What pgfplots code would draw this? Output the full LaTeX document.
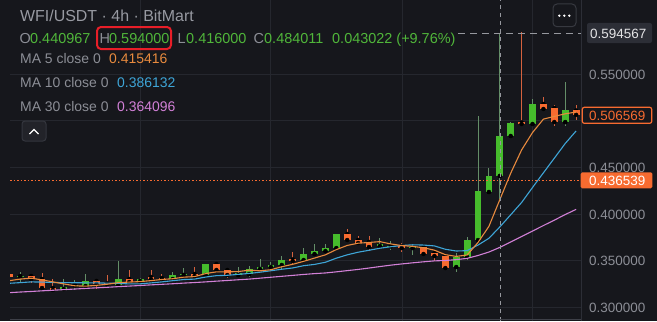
\documentclass[border=0pt]{standalone}
\usepackage{fontspec}
\setmainfont{Liberation Sans}
\usepackage{pgfplots}
\usepackage{pgfplotstable}
\pgfplotsset{compat=1.18}

\definecolor{bg}{RGB}{22,23,28}
\definecolor{gridc}{RGB}{37,39,46}
\definecolor{upc}{RGB}{70,188,44}
\definecolor{downc}{RGB}{247,107,48}
\definecolor{upwick}{RGB}{100,142,104}
\definecolor{downwick}{RGB}{214,98,62}
\definecolor{txtgray}{RGB}{140,142,150}
\definecolor{titlegray}{RGB}{152,154,162}
\definecolor{valgreen}{RGB}{80,182,58}
\definecolor{ma5c}{RGB}{232,138,62}
\definecolor{ma10c}{RGB}{62,165,215}
\definecolor{ma30c}{RGB}{210,128,215}
\definecolor{crossc}{RGB}{150,152,158}
\definecolor{boxgray}{RGB}{44,46,54}
\definecolor{redbox}{RGB}{232,30,40}
\definecolor{sepc}{RGB}{44,46,54}
\definecolor{bottomc}{RGB}{62,64,72}
\definecolor{btnborder}{RGB}{52,54,62}
\definecolor{btnfill}{RGB}{34,35,41}
\definecolor{menuborder}{RGB}{55,57,64}
\definecolor{labwhite}{RGB}{228,228,230}

% green (up) candles: x open high low close
\pgfplotstableread{
x o h l c
20.2 0.3331 0.3376 0.3269 0.3338
63.8 0.3194 0.3301 0.3188 0.3215
74.7 0.3233 0.3290 0.3183 0.3239
85.6 0.3226 0.3355 0.3194 0.3280
118.3 0.3237 0.3495 0.3231 0.3301
140.1 0.3280 0.3317 0.3269 0.3306
172.8 0.3301 0.3376 0.3290 0.3344
183.7 0.3344 0.3419 0.3323 0.3355
205.5 0.3344 0.3462 0.3333 0.3462
238.2 0.3344 0.3430 0.3333 0.3366
249.1 0.3355 0.3441 0.3323 0.3409
260.0 0.3409 0.3516 0.3398 0.3430
270.9 0.3430 0.3484 0.3419 0.3457
281.8 0.3452 0.3548 0.3409 0.3505
303.6 0.3505 0.3634 0.3484 0.3570
314.5 0.3570 0.3677 0.3559 0.3602
325.4 0.3602 0.3677 0.3591 0.3634
336.3 0.3634 0.3785 0.3624 0.3785
379.9 0.3656 0.3742 0.3634 0.3677
390.8 0.3653 0.3710 0.3613 0.3659
412.6 0.3634 0.3667 0.3559 0.3645
456.2 0.3430 0.3581 0.3376 0.3538
467.1 0.3538 0.3753 0.3505 0.3720
478.0 0.3720 0.5054 0.3710 0.4247
488.9 0.4237 0.4495 0.4237 0.4409
499.8 0.440967 0.594000 0.416000 0.484011
510.7 0.4839 0.4985 0.4830 0.4979
532.5 0.4968 0.5237 0.4968 0.5183
565.2 0.4989 0.5419 0.4946 0.5118
}\greentab

% orange (down) candles: x open high low close
\pgfplotstableread{
x o h l c
9.3 0.3355 0.3366 0.3312 0.3323
31.1 0.3333 0.3340 0.3258 0.3301
42.0 0.3301 0.3366 0.3199 0.3204
52.9 0.3204 0.3301 0.3177 0.3183
96.5 0.3280 0.3301 0.3194 0.3247
107.4 0.3253 0.3344 0.3226 0.3244
129.2 0.3301 0.3398 0.3258 0.3269
151.0 0.3323 0.3398 0.3290 0.3301
161.9 0.3312 0.3355 0.3280 0.3301
194.6 0.3355 0.3430 0.3323 0.3333
216.4 0.3462 0.3473 0.3376 0.3398
227.3 0.3398 0.3398 0.3312 0.3344
292.7 0.3511 0.3591 0.3452 0.3495
347.2 0.3785 0.3839 0.3710 0.3720
358.1 0.3720 0.3763 0.3677 0.3688
369.0 0.3699 0.3763 0.3602 0.3645
401.7 0.3656 0.3688 0.3591 0.3634
423.5 0.3645 0.3645 0.3559 0.3570
434.4 0.3581 0.3613 0.3495 0.3548
445.3 0.3548 0.3559 0.3398 0.3419
521.6 0.4984 0.5952 0.4962 0.4968
543.4 0.5183 0.5258 0.5108 0.5129
554.3 0.5140 0.5172 0.4946 0.4989
576.1 0.5113 0.5172 0.5011 0.506569
}\downtab

% moving averages
\pgfplotstableread{
x ma5 ma10 ma30
9.3 0.3283 0.3255 0.3154
20.2 0.3300 0.3262 0.3161
31.1 0.3310 0.3270 0.3167
42.0 0.3292 0.3268 0.3174
52.9 0.3270 0.3264 0.3180
63.8 0.3248 0.3262 0.3187
74.7 0.3228 0.3261 0.3193
85.6 0.3224 0.3260 0.3200
96.5 0.3233 0.3259 0.3206
107.4 0.3245 0.3257 0.3212
118.3 0.3262 0.3255 0.3219
129.2 0.3268 0.3248 0.3225
140.1 0.3273 0.3249 0.3231
151.0 0.3284 0.3259 0.3238
161.9 0.3296 0.3270 0.3244
172.8 0.3304 0.3283 0.3250
183.7 0.3321 0.3295 0.3257
194.6 0.3327 0.3300 0.3263
205.5 0.3359 0.3322 0.3270
216.4 0.3378 0.3337 0.3278
227.3 0.3378 0.3341 0.3285
238.2 0.3381 0.3351 0.3293
249.1 0.3396 0.3361 0.3300
260.0 0.3389 0.3374 0.3310
270.9 0.3401 0.3390 0.3320
281.8 0.3433 0.3406 0.3330
292.7 0.3459 0.3420 0.3340
303.6 0.3491 0.3444 0.3350
314.5 0.3526 0.3458 0.3359
325.4 0.3561 0.3481 0.3366
336.3 0.3617 0.3525 0.3378
347.2 0.3662 0.3561 0.3391
358.1 0.3686 0.3589 0.3404
369.0 0.3694 0.3610 0.3419
379.9 0.3703 0.3632 0.3435
390.8 0.3678 0.3648 0.3450
401.7 0.3661 0.3661 0.3463
412.6 0.3652 0.3669 0.3475
423.5 0.3637 0.3666 0.3486
434.4 0.3611 0.3657 0.3496
445.3 0.3563 0.3621 0.3500
456.2 0.3544 0.3602 0.3509
467.1 0.3559 0.3606 0.3523
478.0 0.3694 0.3666 0.3554
488.9 0.3867 0.3739 0.3591
499.8 0.4154 0.3861 0.3641
510.7 0.4439 0.3992 0.3700
521.6 0.4689 0.4124 0.3758
532.5 0.4876 0.4285 0.3817
543.4 0.5020 0.4443 0.3876
554.3 0.5050 0.4600 0.3934
565.2 0.5077 0.4758 0.3994
576.1 0.5097 0.4893 0.4050
}\matab

\begin{document}
\begin{tikzpicture}[x=1bp,y=1bp]
\fill[bg] (0,0) rectangle (657,321);
\begin{axis}[
  at={(10,0)}, anchor=south west,
  scale only axis, width=571bp, height=321bp,
  xmin=10, xmax=581, ymin=0.284946, ymax=0.630108,
  axis line style={draw=none},
  xtick=\empty, ytick=\empty,
  clip mode=individual,
]
% grid
\foreach \gx in {140,270,402,532} {
  \edef\tmp{\noexpand\draw[gridc, line width=1bp] (axis cs:\gx,0.284946) -- (axis cs:\gx,0.630108);}\tmp
}
\foreach \gy in {0.30,0.35,0.40,0.45,0.50,0.55} {
  \edef\tmp{\noexpand\draw[gridc, line width=1bp] (axis cs:10,\gy) -- (axis cs:581,\gy);}\tmp
}
% wicks
\addplot[only marks, mark=none, forget plot,
  error bars/.cd, y dir=both, y explicit, error mark=none,
  error bar style={upwick, line width=1bp}]
  table[x=x, y=o, y error plus expr=\thisrow{h}-\thisrow{o}, y error minus expr=\thisrow{o}-\thisrow{l}] {\greentab};
\addplot[only marks, mark=none, forget plot,
  error bars/.cd, y dir=both, y explicit, error mark=none,
  error bar style={downwick, line width=1bp}]
  table[x=x, y=o, y error plus expr=\thisrow{h}-\thisrow{o}, y error minus expr=\thisrow{o}-\thisrow{l}] {\downtab};
% bodies
\addplot[only marks, mark=none, forget plot,
  error bars/.cd, y dir=plus, y explicit, error mark=none,
  error bar style={upc, line width=6.8bp}]
  table[x=x, y=o, y error plus expr=\thisrow{c}-\thisrow{o}] {\greentab};
\addplot[only marks, mark=none, forget plot,
  error bars/.cd, y dir=plus, y explicit, error mark=none,
  error bar style={downc, line width=6.8bp}]
  table[x=x, y=c, y error plus expr=\thisrow{o}-\thisrow{c}] {\downtab};
% moving averages
\addplot[ma30c, line width=1.1bp] table[x=x, y=ma30] {\matab};
\addplot[ma10c, line width=1.1bp] table[x=x, y=ma10] {\matab};
\addplot[ma5c, line width=1.1bp] table[x=x, y=ma5] {\matab};
% price lines
\addplot[downc, line width=1bp, dash pattern=on 1.5bp off 2bp] coordinates {(10,0.436539) (581,0.436539)};
\addplot[crossc, line width=1bp, dash pattern=on 7bp off 5bp] coordinates {(458,0.594567) (581,0.594567)};
\addplot[crossc, line width=1bp, dash pattern=on 4bp off 4bp] coordinates {(500,0.284946) (500,0.630108)};
\end{axis}

% separator and bottom line
\draw[sepc, line width=1bp] (581,0) -- (581,321);
\draw[bottomc, line width=1.5bp] (10,1.5) -- (581,1.5);

% header texts
\node[anchor=base west, inner sep=0, text=titlegray, font=\fontsize{16}{18}\selectfont] at (20,299.3) {WFI/USDT · 4h · BitMart};
\begin{scope}[every node/.style={anchor=base west, inner sep=0, font=\fontsize{14.5}{16}\selectfont}]
\node[text=txtgray] at (19.5,277.7) {O};
\node[text=valgreen] at (30,277.7) {0.440967};
\node[text=txtgray] at (99.5,277.7) {H};
\node[text=valgreen] at (109,277.7) {0.594000};
\node[text=txtgray] at (177.5,277.7) {L};
\node[text=valgreen] at (186,277.7) {0.416000};
\node[text=txtgray] at (253.5,277.7) {C};
\node[text=valgreen] at (264,277.7) {0.484011};
\node[text=valgreen] at (332,277.7) {0.043022 (+9.76\%)};
\end{scope}
\draw[redbox, line width=2bp, rounded corners=4bp] (97,272) rectangle (171,294);
\begin{scope}[every node/.style={anchor=base west, inner sep=0, font=\fontsize{14}{16}\selectfont}]
\node[text=txtgray] at (20,257.7) {MA 5 close 0};
\node[text=ma5c] at (109,257.7) {0.415416};
\node[text=txtgray] at (20,233.7) {MA 10 close 0};
\node[text=ma10c] at (117,233.7) {0.386132};
\node[text=txtgray] at (20,209.5) {MA 30 close 0};
\node[text=ma30c] at (117,209.5) {0.364096};
\end{scope}
% chevron button
\draw[btnborder, fill=btnfill, line width=1bp, rounded corners=3bp] (22,180) rectangle (46,200);
\draw[white, line width=1.3bp] (29.5,187) -- (34,191.5) -- (38.5,187);
% menu button
\draw[menuborder, line width=1bp, rounded corners=4bp] (553,294.3) rectangle (576,317);
\foreach \dx in {559.3,564.3,569.3} \fill[white] (\dx,305.3) circle (1.3bp);

% price axis labels
\begin{scope}[every node/.style={anchor=base west, inner sep=0, font=\fontsize{13.5}{15}\selectfont}]
\node[text=txtgray] at (589,241.5) {0.550000};
\node[text=txtgray] at (589,148.5) {0.450000};
\node[text=txtgray] at (589,102) {0.400000};
\node[text=txtgray] at (589,55.3) {0.350000};
\node[text=txtgray] at (589,9) {0.300000};
\end{scope}
\fill[boxgray, rounded corners=2bp] (587,278) rectangle (652,298);
\node[anchor=base west, inner sep=0, text=labwhite, font=\fontsize{13.5}{15}\selectfont] at (590,283) {0.594567};
\draw[downc, fill=bg, line width=1.2bp, rounded corners=2bp] (582.3,197.7) rectangle (651.7,213.7);
\node[anchor=base west, inner sep=0, text=downc, font=\fontsize{13.5}{15}\selectfont] at (589,200.7) {0.506569};
\fill[downc, rounded corners=1.5bp] (580.7,132.7) rectangle (652.3,148.7);
\node[anchor=base west, inner sep=0, text=white, font=\fontsize{13.5}{15}\selectfont] at (589,135.7) {0.436539};

\pgfresetboundingbox
\path[use as bounding box] (0,0) rectangle (657,321);
\end{tikzpicture}
\end{document}
